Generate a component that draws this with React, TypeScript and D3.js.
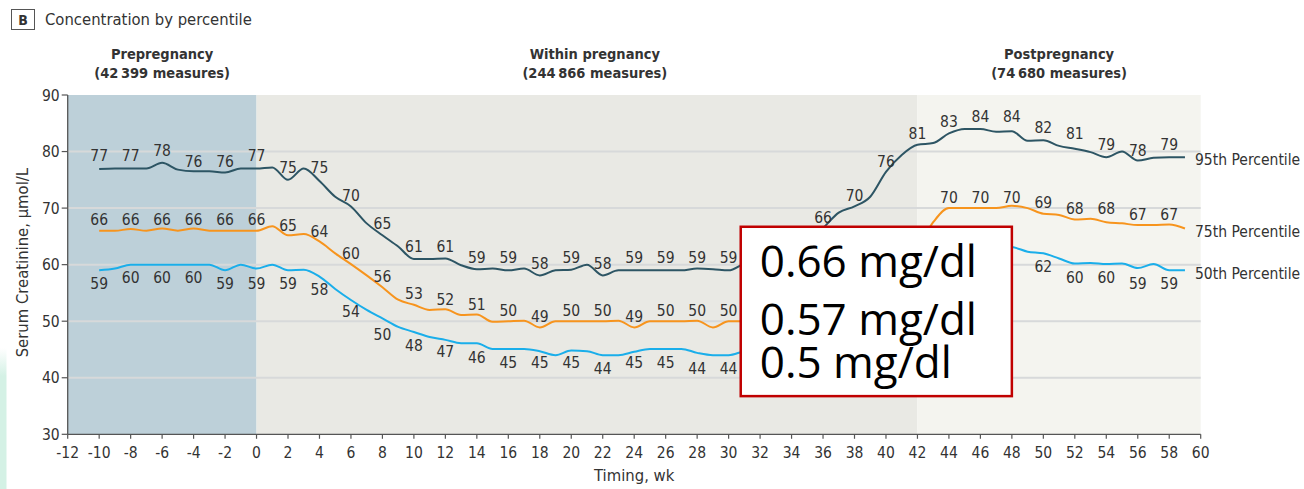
import React from 'react';
import * as d3 from 'd3';

// ---- data (weekly, weeks -10 .. 59) ----
const weeks: number[] = d3.range(-10, 60);
const p95: number[] = [
  76.9, 77, 77, 77, 78, 76.8, 76.5, 76.5, 76.3, 77,
  77, 77.2, 75, 77, 74.8, 72, 70.3, 67.3, 65.2, 63.2,
  61, 61, 61.1, 59.9, 59.2, 59.3, 59, 59.3, 58.1, 59,
  59.1, 60, 58.1, 59, 59, 59, 59, 59, 59.3, 59.2,
  59, 60.2, 61, 62, 62.8, 64.3, 66.5, 69.2, 70.3, 72,
  76.4, 79.4, 81.2, 81.5, 83.2, 84, 84, 83.5, 83.6, 81.9,
  82, 81, 80.5, 79.9, 79, 80, 78.4, 78.9, 79, 79,
];
const p75: number[] = [
  66, 66, 66.3, 66, 66.4, 66, 66.4, 66, 66, 66,
  66, 66.8, 65.2, 65.4, 64.1, 62, 60.1, 58.1, 56, 53.8,
  52.9, 52, 52.1, 51.1, 51.2, 49.9, 50, 50.1, 48.9, 50,
  50, 50, 50, 50.1, 48.9, 50, 50, 50, 50.1, 48.9,
  50, 50, 50, 50.5, 51, 52, 53, 55, 57, 59,
  60.5, 61.5, 63, 67.5, 70, 70, 70, 70, 70.4, 70,
  69, 68.8, 68, 68.1, 67.5, 67.3, 67, 67, 67.1, 66.4,
];
const p50: number[] = [
  59, 59.3, 60, 60, 60, 60, 60, 60, 59, 60,
  59.3, 60, 59, 59.1, 57.9, 55.7, 53.75, 52, 50.5, 49,
  48.1, 47.2, 46.7, 46.1, 46.1, 45.1, 45.1, 45.1, 44.7, 44,
  44.8, 44.7, 44, 44, 44.6, 45.1, 45.1, 45.1, 44.4, 44,
  44, 44.7, 45, 45.3, 45.8, 46.5, 47.5, 49, 51, 53,
  55, 57, 59, 60.5, 61.8, 62.5, 63, 63.2, 63.1, 62.3,
  62, 61.1, 60.2, 60.3, 60.1, 60.2, 59.4, 60.1, 59, 59,
];

// value labels at every second week (-10 .. 58)
const labelWeeks: number[] = d3.range(-10, 60, 2);
const p95Labels = [77, 77, 78, 76, 76, 77, 75, 75, 70, 65, 61, 61, 59, 59, 58, 59, 58, 59, 59, 59, 59, 61, 63, 66, 70, 76, 81, 83, 84, 84, 82, 81, 79, 78, 79];
const p75Labels = [66, 66, 66, 66, 66, 66, 65, 64, 60, 56, 53, 52, 51, 50, 49, 50, 50, 49, 50, 50, 50, 50, 51, 52, 55, 59, 63, 70, 70, 70, 69, 68, 68, 67, 67];
const p50Labels = [59, 60, 60, 60, 59, 59, 59, 58, 54, 50, 48, 47, 46, 45, 45, 45, 44, 45, 45, 44, 44, 45, 45, 47, 51, 55, 59, 62, 63, 63, 62, 60, 60, 59, 59];

const xTicks: number[] = d3.range(-12, 61, 2);
const yTicks: number[] = [30, 40, 50, 60, 70, 80, 90];
const gridValues: number[] = [40, 50, 60, 70, 80];

const sectionNames = ['Prepregnancy', 'Within pregnancy', 'Postpregnancy'];
const sectionCounts = ['(42\u2009399 measures)', '(244\u2009866 measures)', '(74\u2009680 measures)'];
const sectionStarts = [-12, 0, 42];
const sectionEnds = [0, 42, 60];
const sectionFills = ['#bdd0d9', '#e9e9e4', '#f4f4ef'];

const annotationLines = ['0.66 mg/dl', '0.57 mg/dl', '0.5 mg/dl'];

const FONT = "'DejaVu Sans Condensed', 'DejaVu Sans', sans-serif";

export default function App() {
  const W = 1304, H = 489;
  const x = d3.scaleLinear().domain([-12, 60]).range([67.7, 1200.7]);
  const y = d3.scaleLinear().domain([30, 90]).range([434.3, 95]);

  const line = d3
    .line<number>()
    .x((_, i) => x(weeks[i]))
    .y((d) => y(d))
    .curve(d3.curveMonotoneX);

  const series = [
    { values: p95, labels: p95Labels, color: '#2d5564', name: '95th Percentile', off: -13 },
    { values: p75, labels: p75Labels, color: '#f7941d', name: '75th Percentile', off: -11 },
    { values: p50, labels: p50Labels, color: '#1aaeea', name: '50th Percentile', off: 13 },
  ];

  const boxX0 = x(30.77), boxX1 = x(48), boxY0 = y(66.7), boxY1 = y(36.75);
  const textColor = '#333';
  const FS = 15.5;
  const half = FS * 0.37;
  const inBox = (px: number, py: number) =>
    px > boxX0 - 4 && px < boxX1 + 4 && py > boxY0 + 2 && py < boxY1 + 10;

  return (
    <svg
      width={W}
      height={H}
      style={{ position: 'absolute', left: 0, top: 0, background: '#fff', fontStretch: 'condensed' }}
      fontFamily={FONT}
    >
      <defs>
        <linearGradient id="mint" x1="0" y1="0" x2="0" y2="1">
          <stop offset="0" stopColor="#d4f1e5" stopOpacity="0" />
          <stop offset="0.2" stopColor="#d4f1e5" stopOpacity="1" />
          <stop offset="1" stopColor="#d4f1e5" stopOpacity="1" />
        </linearGradient>
      </defs>
      <rect x={0} y={348} width={6.5} height={141} fill="url(#mint)" />

      {/* header */}
      <rect x={11.5} y={9.5} width={23} height={20} fill="#fff" stroke="#555" strokeWidth={1} />
      <text x={23} y={25} textAnchor="middle" fontSize={14} fontWeight="bold" fill="#333">B</text>
      <text x={45} y={25} fontSize={16.5} fill={textColor}>Concentration by percentile</text>

      {/* section backgrounds */}
      {sectionStarts.map((s, i) => (
        <rect key={'bg' + i} x={x(s)} y={y(90)} width={x(sectionEnds[i]) - x(s)} height={y(30) - y(90)} fill={sectionFills[i]} />
      ))}

      {/* gridlines */}
      {gridValues.map((v) => (
        <line key={'g' + v} x1={x(-12)} x2={x(60)} y1={y(v)} y2={y(v)} stroke="#d7d9da" strokeWidth={2} />
      ))}

      {/* section titles */}
      {sectionNames.map((n, i) => {
        const cx = i === 1 ? x(21.5) : (x(sectionStarts[i]) + x(sectionEnds[i])) / 2;
        return (
          <g key={'st' + i}>
            <text x={cx} y={59} textAnchor="middle" fontSize={14.5} fontWeight="bold" fill={textColor}>{n}</text>
            <text x={cx} y={78} textAnchor="middle" fontSize={14.5} fontWeight="bold" fill={textColor}>{sectionCounts[i]}</text>
          </g>
        );
      })}

      {/* lines */}
      {series.map((s) => (
        <path key={s.name} d={line(s.values) || ''} fill="none" stroke={s.color} strokeWidth={2} />
      ))}

      {/* value labels (those under the annotation box are hidden by it) */}
      {series.map((s) =>
        s.labels.map((v, i) => {
          const px = x(labelWeeks[i]);
          const py = y(v) + s.off + half;
          if (inBox(px, py)) return null;
          return (
            <text key={s.name + i} x={px} y={py} textAnchor="middle" fontSize={FS} fill={textColor}>
              {v}
            </text>
          );
        })
      )}

      {/* series names at right */}
      {series.map((s) => (
        <text key={'n' + s.name} x={1195} y={y(s.values[s.values.length - 1]) + 2.5 + half} fontSize={FS} fill={textColor}>
          {s.name}
        </text>
      ))}

      {/* axes */}
      <line x1={x(-12)} x2={x(-12)} y1={y(90)} y2={y(30)} stroke="#555" strokeWidth={1.3} />
      <line x1={x(-12)} x2={x(60)} y1={y(30)} y2={y(30)} stroke="#555" strokeWidth={1.3} />
      {yTicks.map((t) => (
        <g key={'yt' + t}>
          <line x1={x(-12) - 6} x2={x(-12)} y1={y(t)} y2={y(t)} stroke="#555" strokeWidth={1.2} />
          <text x={x(-12) - 8} y={y(t) + half} textAnchor="end" fontSize={FS} fill={textColor}>{t}</text>
        </g>
      ))}
      {xTicks.map((t) => (
        <g key={'xt' + t}>
          <line x1={x(t)} x2={x(t)} y1={y(30)} y2={y(30) + 4.5} stroke="#555" strokeWidth={1.2} />
          <text x={x(t)} y={457.5} textAnchor="middle" fontSize={FS} fill={textColor}>{t}</text>
        </g>
      ))}
      <text x={x(24)} y={481} textAnchor="middle" fontSize={16.5} fill={textColor}>Timing, wk</text>
      <text
        transform={`translate(28, ${(y(30) + y(90)) / 2 - 2}) rotate(-90)`}
        textAnchor="middle"
        fontSize={16.5}
        fill={textColor}
      >
        Serum Creatinine, µmol/L
      </text>

      {/* annotation box */}
      <rect x={boxX0} y={boxY0} width={boxX1 - boxX0} height={boxY1 - boxY0} fill="#fff" stroke="#c00000" strokeWidth={2.5} />
      {annotationLines.map((t, i) => (
        <text
          key={'a' + i}
          x={boxX0 + 19}
          y={boxY0 + [50, 108, 151][i]}
          fontSize={44}
          fill="#000"
          fontFamily="'Open Sans', 'Liberation Sans', sans-serif"
          style={{ fontStretch: 'normal' }}
        >
          {t}
        </text>
      ))}
    </svg>
  );
}
